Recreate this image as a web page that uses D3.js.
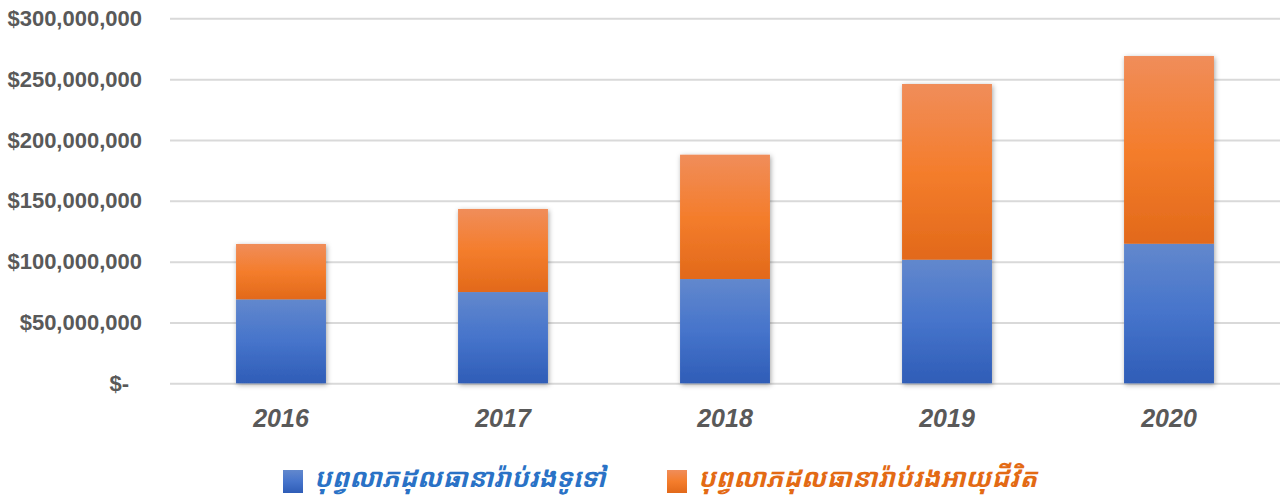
<!DOCTYPE html>
<html>
<head>
<meta charset="utf-8">
<script src="https://cdn.jsdelivr.net/npm/d3@7"></script>
<style>
  html, body { margin: 0; padding: 0; background: #fff; }
  svg { display: block; }
</style>
</head>
<body>
<svg id="chart" width="1282" height="495"></svg>
<script>
// Gross premiums by year (USD)
const years = ["2016", "2017", "2018", "2019", "2020"];
const generalInsurance = [69000000, 75000000, 85700000, 101600000, 114700000];
const lifeInsurance = [45500000, 68300000, 102200000, 144400000, 154300000];
const seriesNames = ["បុព្វលាភដុលធានារ៉ាប់រងទូទៅ", "បុព្វលាភដុលធានារ៉ាប់រងអាយុជីវិត"];
const yTicks = [0, 50000000, 100000000, 150000000, 200000000, 250000000, 300000000];

const svg = d3.select("#chart");
const plot = { left: 170, right: 1280, top: 18.3, bottom: 383.3 };

const x = d3.scaleBand().domain(years).range([plot.left, plot.right]).paddingInner(0.595).paddingOuter(0.2975);
const y = d3.scaleLinear().domain([0, 300000000]).range([plot.bottom, plot.top]);

const defs = svg.append("defs");
const blueGrad = defs.append("linearGradient").attr("id", "gBlue").attr("x1", 0).attr("y1", 0).attr("x2", 0).attr("y2", 1);
blueGrad.append("stop").attr("offset", "0%").attr("stop-color", "#6288cd");
blueGrad.append("stop").attr("offset", "50%").attr("stop-color", "#4674cb");
blueGrad.append("stop").attr("offset", "100%").attr("stop-color", "#2f5db7");
const orangeGrad = defs.append("linearGradient").attr("id", "gOrange").attr("x1", 0).attr("y1", 0).attr("x2", 0).attr("y2", 1);
orangeGrad.append("stop").attr("offset", "0%").attr("stop-color", "#f08d5a");
orangeGrad.append("stop").attr("offset", "50%").attr("stop-color", "#f47d2c");
orangeGrad.append("stop").attr("offset", "100%").attr("stop-color", "#e2691a");
const shadow = defs.append("filter").attr("id", "barShadow").attr("x", "-20%").attr("y", "-20%").attr("width", "140%").attr("height", "140%");
shadow.append("feDropShadow").attr("dx", 1).attr("dy", 1.5).attr("stdDeviation", 2.5)
  .attr("flood-color", "#000").attr("flood-opacity", 0.35);

// Gridlines and y-axis labels
const yAxis = d3.axisLeft(y).tickValues(yTicks).tickSize(0).tickPadding(28)
  .tickFormat(d => d === 0 ? "$-" : "$" + d3.format(",")(d));
const gy = svg.append("g").attr("transform", `translate(${plot.left},0)`).call(yAxis);
gy.select(".domain").remove();
gy.selectAll("text")
  .attr("fill", "#595959").attr("font-family", "'Liberation Sans', Arial, sans-serif")
  .attr("font-size", 22).attr("font-weight", "bold")
  .attr("dx", (d) => d === 0 ? -13 : 0);
gy.selectAll(".tick").append("line")
  .attr("x1", 0).attr("x2", plot.right - plot.left)
  .attr("stroke", "#d9d9d9").attr("stroke-width", 2);

// Stacked bars
const rows = years.map((yr, i) => ({ year: yr, general: generalInsurance[i], life: lifeInsurance[i] }));
const stack = d3.stack().keys(["general", "life"])(rows);
const fills = ["url(#gBlue)", "url(#gOrange)"];

const barG = svg.append("g").attr("filter", "url(#barShadow)");
barG.selectAll("g.series").data(stack).join("g").attr("class", "series")
  .attr("fill", (d, i) => fills[i])
  .selectAll("rect").data(d => d).join("rect")
  .attr("x", d => x(d.data.year))
  .attr("width", x.bandwidth())
  .attr("y", d => y(d[1]))
  .attr("height", d => y(d[0]) - y(d[1]));

// x-axis labels
const xAxis = d3.axisBottom(x).tickSize(0).tickPadding(26);
const gx = svg.append("g").attr("transform", `translate(0,${plot.bottom})`).call(xAxis);
gx.select(".domain").remove();
gx.selectAll("text")
  .attr("fill", "#595959").attr("font-family", "'Liberation Sans', Arial, sans-serif")
  .attr("font-size", 25).attr("font-weight", "bold").attr("font-style", "italic");

// Legend
const legendItems = [
  { name: seriesNames[0], fill: "url(#gBlue)", color: "#2a72c6", x: 283 },
  { name: seriesNames[1], fill: "url(#gOrange)", color: "#e36a14", x: 667 }
];
const lg = svg.append("g").selectAll("g").data(legendItems).join("g")
  .attr("transform", d => `translate(${d.x},470)`);
lg.append("rect").attr("width", 20).attr("height", 23).attr("fill", d => d.fill);
lg.append("text")
  .attr("x", 31).attr("y", 17)
  .attr("fill", d => d.color)
  .attr("font-family", "'Noto Sans Khmer', 'Khmer OS', 'Noto Sans', sans-serif")
  .attr("font-size", 26).attr("font-weight", "bold").attr("font-style", "italic")
  .text(d => d.name);
</script>
</body>
</html>
